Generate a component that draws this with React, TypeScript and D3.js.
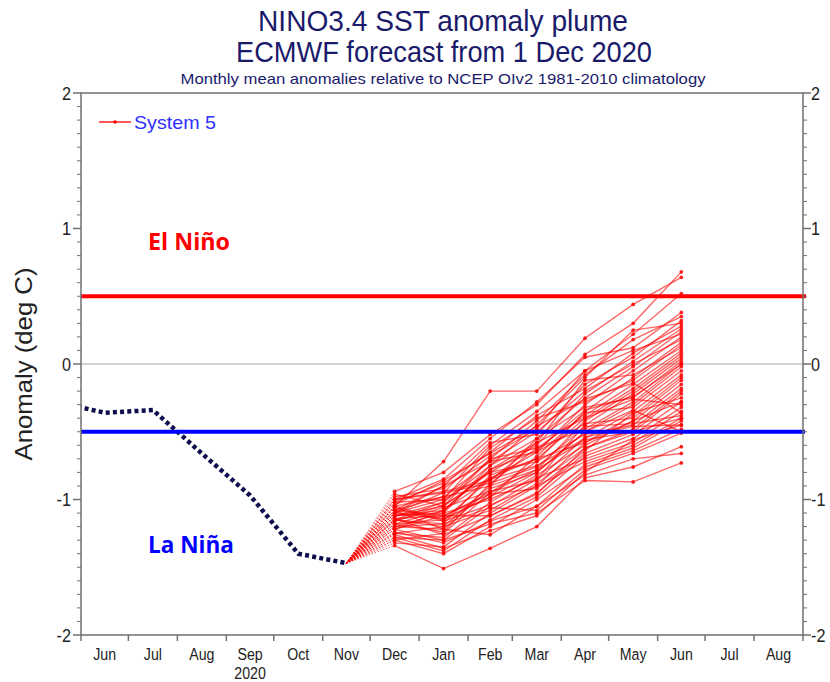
import React from "react";
import * as d3 from "d3";

const monthLabels = ["Jun", "Jul", "Aug", "Sep", "Oct", "Nov", "Dec", "Jan", "Feb", "Mar", "Apr", "May", "Jun", "Jul", "Aug"];
const yearLabel = "2020";
const yTicks = [-2, -1, 0, 1, 2];
const thresholds = { elNino: 0.5, laNina: -0.5 };

const obsMonths = ["2020-05", "2020-06", "2020-07", "2020-08", "2020-09", "2020-10", "2020-11"];
const obsValues = [-0.28, -0.36, -0.34, -0.66, -0.97, -1.40, -1.47];

const fcMonths = ["2020-12", "2021-01", "2021-02", "2021-03", "2021-04", "2021-05", "2021-06"];
const members: number[][] = [
  [-1.05, -0.72, -0.20, -0.20, 0.19, 0.44, 0.64],
  [-0.94, -0.80, -0.52, -0.30, 0.07, 0.30, 0.68],
  [-1.10, -0.95, -0.60, -0.35, -0.05, 0.22, 0.52],
  [-1.00, -0.85, -0.55, -0.28, 0.05, 0.12, 0.38],
  [-1.15, -1.02, -0.70, -0.42, -0.08, 0.18, 0.35],
  [-1.08, -0.90, -0.58, -0.52, -0.15, 0.05, 0.32],
  [-1.20, -1.10, -0.75, -0.45, -0.10, 0.25, 0.30],
  [-1.02, -0.88, -0.65, -0.38, -0.18, 0.08, 0.28],
  [-1.12, -1.05, -0.80, -0.60, -0.22, 0.02, 0.26],
  [-1.25, -1.20, -0.90, -0.55, -0.25, -0.02, 0.24],
  [-0.98, -0.92, -0.68, -0.48, -0.05, 0.10, 0.22],
  [-1.18, -1.15, -0.85, -0.65, -0.30, -0.05, 0.20],
  [-1.05, -0.98, -0.72, -0.50, -0.20, 0.00, 0.18],
  [-1.30, -1.25, -0.95, -0.72, -0.35, -0.10, 0.16],
  [-1.10, -1.00, -0.62, -0.40, -0.28, -0.12, 0.14],
  [-1.22, -1.08, -0.78, -0.58, -0.12, -0.08, 0.12],
  [-1.00, -0.95, -0.88, -0.62, -0.38, -0.15, 0.10],
  [-1.15, -1.18, -0.82, -0.70, -0.40, -0.18, 0.08],
  [-1.08, -1.12, -0.95, -0.78, -0.42, -0.20, 0.06],
  [-1.28, -1.30, -1.05, -0.85, -0.45, -0.22, 0.04],
  [-1.12, -1.02, -0.75, -0.55, -0.32, -0.25, 0.02],
  [-0.96, -1.05, -0.70, -0.62, -0.48, -0.28, 0.00],
  [-1.20, -1.22, -0.92, -0.80, -0.50, -0.30, -0.02],
  [-1.05, -1.15, -0.98, -0.68, -0.36, -0.32, -0.05],
  [-1.18, -1.08, -0.85, -0.75, -0.55, -0.35, -0.08],
  [-1.32, -1.35, -1.10, -0.90, -0.58, -0.38, -0.10],
  [-1.10, -0.90, -0.72, -0.65, -0.44, -0.40, -0.12],
  [-1.25, -1.28, -1.02, -0.82, -0.60, -0.42, -0.15],
  [-1.02, -1.00, -0.80, -0.72, -0.52, -0.45, -0.18],
  [-1.15, -1.20, -1.08, -0.88, -0.62, -0.48, -0.20],
  [-1.08, -0.98, -0.90, -0.78, -0.56, -0.50, -0.22],
  [-1.22, -1.12, -0.96, -0.92, -0.64, -0.36, -0.25],
  [-1.14, -1.26, -1.12, -0.95, -0.66, -0.52, -0.28],
  [-1.00, -0.94, -0.86, -0.58, -0.40, -0.26, -0.30],
  [-1.28, -1.38, -1.15, -0.98, -0.68, -0.55, -0.32],
  [-1.12, -1.10, -1.00, -0.84, -0.70, -0.58, -0.35],
  [-1.18, -1.24, -0.88, -0.76, -0.46, -0.44, -0.38],
  [-1.06, -1.16, -1.04, -0.90, -0.72, -0.60, -0.40],
  [-1.24, -1.32, -1.16, -1.05, -0.74, -0.62, -0.42],
  [-1.16, -1.06, -0.94, -0.86, -0.54, -0.46, -0.45],
  [-1.30, -1.40, -1.20, -1.00, -0.76, -0.64, -0.48],
  [-1.10, -1.14, -0.98, -0.80, -0.50, -0.34, -0.50],
  [-1.20, -1.18, -1.06, -1.08, -0.78, -0.66, -0.51],
  [-1.04, -0.86, -0.66, -0.46, -0.26, -0.14, -0.36],
  [-1.26, -1.36, -1.23, -1.12, -0.80, -0.56, -0.45],
  [-1.14, -1.12, -1.12, -0.96, -0.62, -0.50, -0.40],
  [-1.34, -1.51, -1.36, -1.20, -0.84, -0.76, -0.61],
  [-1.22, -1.30, -1.18, -1.10, -0.86, -0.87, -0.73],
  [-1.08, -1.22, -1.26, -1.05, -0.82, -0.70, -0.66],
  [-1.16, -1.04, -0.84, -0.70, -0.58, -0.42, -0.28],
  [-1.12, -1.08, -0.78, -0.64, -0.34, -0.24, 0.00],
];

const W = 830, H = 682;
const M = { left: 81, right: 803, top: 93, bottom: 635 };
const NAVY = "#1a1a6b";
const sans = "'Liberation Sans', Arial, sans-serif";
const bold = "'Open Sans', 'Noto Sans', sans-serif";

const parse = d3.timeParse("%Y-%m");
const midOf = (a: Date) => {
  const b = d3.timeMonth.offset(a, 1);
  return new Date((a.getTime() + b.getTime()) / 2);
};
const mid = (s: string) => midOf(parse(s)!);

export default function App() {
  const start = new Date(2020, 5, 1);
  const end = new Date(2021, 8, 1);
  const x = d3.scaleTime().domain([start, end]).range([M.left, M.right]);
  const y = d3.scaleLinear().domain([-2, 2]).range([M.bottom, M.top]);
  const boundaries = d3.timeMonth.range(start, d3.timeDay.offset(end, 1));
  const labelMonths = d3.timeMonth.range(start, end);
  const minor = d3.range(-20, 21).map((v) => v / 10);

  const line = d3.line<[Date, number]>().x((d) => x(d[0])).y((d) => y(d[1]));
  const obsPts: [Date, number][] = obsMonths.map((m, i) => [mid(m), obsValues[i]]);
  const lastObs = obsPts[obsPts.length - 1];
  const fcDates = fcMonths.map(mid);

  return (
    <svg width={W} height={H} style={{ display: "block", position: "absolute", left: 0, top: 0 }}>
      <defs>
        <clipPath id="plot">
          <rect x={M.left} y={M.top} width={M.right - M.left} height={M.bottom - M.top} />
        </clipPath>
      </defs>
      <rect width={W} height={H} fill="#fff" />
      {/* titles */}
      <text x={443} y={31} textAnchor="middle" fill={NAVY} fontFamily={sans} fontSize={30} textLength={370} lengthAdjust="spacingAndGlyphs">NINO3.4 SST anomaly plume</text>
      <text x={444} y={62} textAnchor="middle" fill={NAVY} fontFamily={sans} fontSize={30} textLength={416} lengthAdjust="spacingAndGlyphs">ECMWF forecast from 1 Dec 2020</text>
      <text x={443} y={84} textAnchor="middle" fill={NAVY} fontFamily={sans} fontSize={15} textLength={525} lengthAdjust="spacingAndGlyphs">Monthly mean anomalies relative to NCEP OIv2 1981-2010 climatology</text>

      {/* zero line */}
      <line x1={M.left} x2={M.right} y1={y(0)} y2={y(0)} stroke="#aaa" strokeWidth={1.2} />

      <g clipPath="url(#plot)">
        {/* observed */}
        <path d={line(obsPts)!} fill="none" stroke="#0e0e4e" strokeWidth={4.5} strokeDasharray="4 3.2" />
        {/* connectors */}
        {members.map((m, i) => (
          <line key={"c" + i} x1={x(lastObs[0])} y1={y(lastObs[1])} x2={x(fcDates[0])} y2={y(m[0])}
            stroke="#ff0000" strokeOpacity={0.6} strokeWidth={1} strokeDasharray="1.5 1.5" />
        ))}
        {/* members */}
        {members.map((m, i) => (
          <path key={"m" + i} d={line(m.map((v, j) => [fcDates[j], v] as [Date, number]))!}
            fill="none" stroke="#ff0000" strokeOpacity={0.6} strokeWidth={1.4} />
        ))}
        {members.map((m, i) =>
          m.map((v, j) => (
            <circle key={"p" + i + "-" + j} cx={x(fcDates[j])} cy={y(v)} r={1.9} fill="#ff0000" fillOpacity={0.85} />
          ))
        )}
      </g>

      {/* thresholds */}
      <line x1={M.left} x2={M.right + 3} y1={y(thresholds.elNino)} y2={y(thresholds.elNino)} stroke="#ff0000" strokeWidth={4} />
      <line x1={M.left} x2={M.right + 2} y1={y(thresholds.laNina)} y2={y(thresholds.laNina)} stroke="#0000ff" strokeWidth={4} />

      {/* frame */}
      <rect x={M.left} y={M.top} width={M.right - M.left} height={M.bottom - M.top} fill="none" stroke="#707070" strokeWidth={1.5} />

      {/* y ticks */}
      {minor.map((v, i) => {
        const major = Math.abs(v - Math.round(v)) < 1e-6;
        const len = major ? 8 : 4;
        return (
          <g key={"yt" + i}>
            <line x1={M.left - len} x2={M.left} y1={y(v)} y2={y(v)} stroke="#707070" strokeWidth={major ? 1.5 : 1} />
            <line x1={M.right} x2={M.right + len} y1={y(v)} y2={y(v)} stroke="#707070" strokeWidth={major ? 1.5 : 1} />
          </g>
        );
      })}
      {yTicks.map((v) => (
        <g key={"yl" + v} fontFamily={sans} fontSize={18} fill="#222">
          <g transform={`translate(${M.left - 10},${y(v) + 6.5}) scale(0.9,1)`}>
            <text x={0} y={0} textAnchor="end">{v}</text>
          </g>
          <g transform={`translate(${M.right + 8},${y(v) + 6.5}) scale(0.9,1)`}>
            <text x={0} y={0} textAnchor="start">{v}</text>
          </g>
        </g>
      ))}

      {/* x ticks */}
      {boundaries.map((d, i) => (
        <line key={"xt" + i} x1={x(d)} x2={x(d)} y1={M.bottom} y2={M.bottom + 6} stroke="#707070" strokeWidth={1.5} />
      ))}
      {labelMonths.map((d, i) => (
        <g key={"xl" + i} transform={`translate(${x(midOf(d))},660) scale(0.86,1)`}>
          <text x={0} y={0} textAnchor="middle" fontFamily={sans} fontSize={16.5} fill="#222">{monthLabels[i]}</text>
        </g>
      ))}
      <g transform={`translate(${x(mid("2020-09"))},679) scale(0.86,1)`}>
        <text x={0} y={0} textAnchor="middle" fontFamily={sans} fontSize={16.5} fill="#222">{yearLabel}</text>
      </g>

      {/* y label */}
      <text transform={`translate(32,${y(0)}) rotate(-90)`} textAnchor="middle" fontFamily={sans} fontSize={24} fill="#222" textLength={193} lengthAdjust="spacingAndGlyphs">Anomaly (deg C)</text>

      {/* legend */}
      <line x1={99} x2={131} y1={122} y2={122} stroke="#ff0000" strokeWidth={1.3} />
      <circle cx={115} cy={122} r={1.8} fill="#ff0000" />
      <text x={134} y={129} fontFamily={sans} fontSize={19} fill="#3030ff" textLength={82} lengthAdjust="spacingAndGlyphs">System 5</text>

      {/* labels */}
      <text x={148} y={250} fontFamily={bold} fontWeight="bold" fontSize={24} fill="#ff0000" textLength={82} lengthAdjust="spacingAndGlyphs">El Niño</text>
      <text x={148} y={553} fontFamily={bold} fontWeight="bold" fontSize={24} fill="#0000ff" textLength={86} lengthAdjust="spacingAndGlyphs">La Niña</text>
    </svg>
  );
}
